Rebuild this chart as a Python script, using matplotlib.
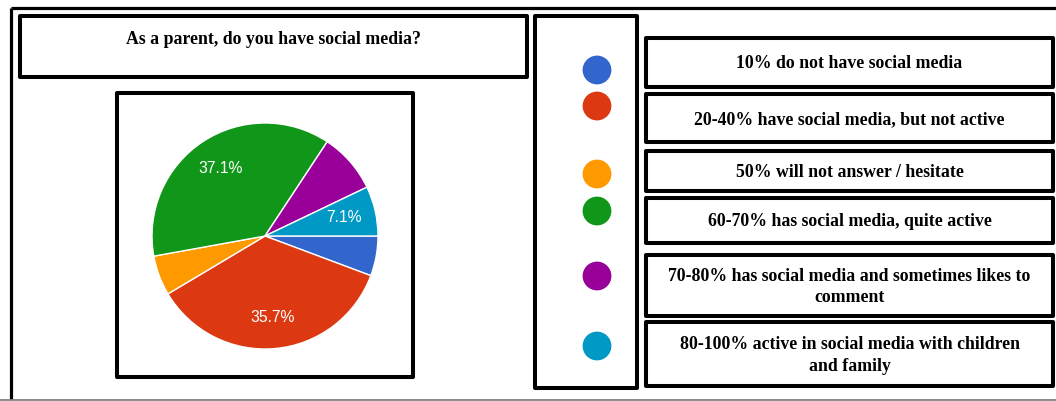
import matplotlib
matplotlib.use("Agg")
import matplotlib.pyplot as plt
from matplotlib.patches import Rectangle
import numpy as np

# ---- data ----
title = "As a parent, do you have social media?"
categories = [
    "10% do not have social media",
    "20-40% have social media, but not active",
    "50% will not answer / hesitate",
    "60-70% has social media, quite active",
    "70-80% has social media and sometimes likes to\ncomment",
    "80-100% active in social media with children\nand family",
]
shares = [5.7, 35.7, 5.7, 37.1, 8.6, 7.1]
slice_labels = ["", "35.7%", "", "37.1%", "", "7.1%"]
colors = ["#3366cc", "#dc3912", "#ff9900", "#109618", "#990099", "#0099c6"]

W, H = 1056, 401
fig = plt.figure(figsize=(W / 100, H / 100), dpi=100)
fig.patch.set_facecolor("white")

# overlay axes in pixel coordinates (y downward)
ov = fig.add_axes([0, 0, 1, 1])
ov.set_xlim(0, W)
ov.set_ylim(H, 0)
ov.axis("off")

def box(x0, y0, x1, y1, lw=2.9, color="black"):
    ov.add_patch(Rectangle((x0, y0), x1 - x0, y1 - y0, fill=False,
                           lw=lw, edgecolor=color, joinstyle="round"))

serif = ["Liberation Serif", "DejaVu Serif"]
FS = 12.8

# outer frame
ov.plot([11, 11], [8, 399], color="black", lw=2.3, solid_capstyle="butt")
ov.plot([11, W], [8, 8], color="black", lw=2.3, solid_capstyle="butt")
ov.plot([0, W], [399.5, 399.5], color="#777777", lw=1.2)

# title box
box(20, 16, 527, 77)
ov.text(273.5, 40, title, ha="center", va="center", fontsize=FS,
        fontweight="bold", family=serif)

# pie box
box(117, 93, 413, 377)

# legend dot column box
box(535, 16, 637, 388)

# right-hand text boxes
right_boxes = [(38, 87), (94, 142), (151, 191), (198, 243), (255, 316), (322, 386)]
dot_y = [70, 106, 174, 211, 276, 346]
for (y0, y1), txt, col, dy in zip(right_boxes, categories, colors, dot_y):
    box(646, y0, 1053, y1)
    ov.text(849.5, (y0 + y1) / 2 + 1.5, txt, ha="center", va="center",
            fontsize=FS, fontweight="bold", family=serif, linespacing=1.32)
    ov.scatter([597], [dy], s=430, color=col, edgecolors="none", zorder=3)

# pie
cx, cy, r = 265, 236, 113
pax = fig.add_axes([(cx - r) / W, 1 - (cy + r) / H, 2 * r / W, 2 * r / H])
wedges, _ = pax.pie(shares, colors=colors, startangle=0, counterclock=False,
                    wedgeprops=dict(edgecolor="white", linewidth=1.0))
theta = 0.0
total = sum(shares)
for v, lab in zip(shares, slice_labels):
    span = 360 * v / total
    mid = np.deg2rad(theta - span / 2)
    theta -= span
    if lab:
        pax.text(0.72 * np.cos(mid), 0.72 * np.sin(mid), lab, ha="center",
                 va="center", color="white", fontsize=11.3,
                 family=["Liberation Sans", "DejaVu Sans"])
pax.set_xlim(-1, 1)
pax.set_ylim(-1, 1)
pax.set_aspect("equal")
pax.axis("off")

fig.savefig("out.png", dpi=100, facecolor="white")
